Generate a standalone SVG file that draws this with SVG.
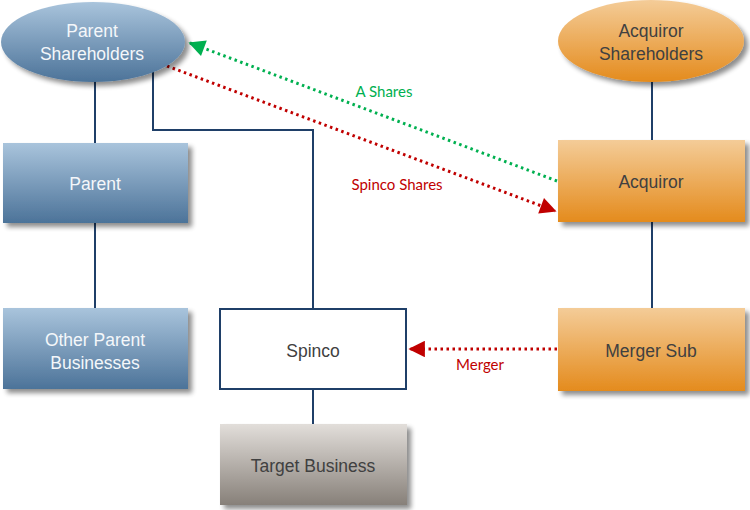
<svg xmlns="http://www.w3.org/2000/svg" width="750" height="510" viewBox="0 0 750 510">
  <defs>
    <linearGradient id="gBlue" x1="0" y1="0" x2="0" y2="1">
      <stop offset="0" stop-color="#A9C4DC"/>
      <stop offset="1" stop-color="#4C7399"/>
    </linearGradient>
    <linearGradient id="gOrange" x1="0" y1="0" x2="0" y2="1">
      <stop offset="0" stop-color="#F4CC98"/>
      <stop offset="1" stop-color="#E48B1D"/>
    </linearGradient>
    <linearGradient id="gGray" x1="0" y1="0" x2="0" y2="1">
      <stop offset="0" stop-color="#E2DEDA"/>
      <stop offset="1" stop-color="#878079"/>
    </linearGradient>
    <filter id="shadow" x="-10%" y="-10%" width="130%" height="140%">
      <feGaussianBlur in="SourceAlpha" stdDeviation="2.5"/>
      <feOffset dx="4" dy="4" result="b"/>
      <feComponentTransfer><feFuncA type="linear" slope="0.45"/></feComponentTransfer>
      <feMerge><feMergeNode/><feMergeNode in="SourceGraphic"/></feMerge>
    </filter>
    <marker id="arrowGreen" viewBox="0 0 10 10" refX="9" refY="5" markerWidth="6.5" markerHeight="5.5" markerUnits="strokeWidth" orient="auto">
      <path d="M0,0 L10,5 L0,10 z" fill="#00B050"/>
    </marker>
    <marker id="arrowRed" viewBox="0 0 10 10" refX="9" refY="5" markerWidth="6.5" markerHeight="5.5" markerUnits="strokeWidth" orient="auto">
      <path d="M0,0 L10,5 L0,10 z" fill="#C00000"/>
    </marker>
  </defs>
  <style>
    .link { fill: none; stroke: #1F3F68; stroke-width: 2; }
    .dot { fill: none; stroke-width: 3; stroke-dasharray: 2.5 3.5; }
    .green { stroke: #00B050; }
    .red { stroke: #C00000; }
    .lblW { font-family: "Liberation Sans", Arial, sans-serif; font-size: 17.5px; fill: #F4F7FA; text-anchor: middle; }
    .lblD { font-family: "Liberation Sans", Arial, sans-serif; font-size: 17.5px; fill: #404040; text-anchor: middle; }
    .edge { font-family: Lato, "Open Sans", sans-serif; font-size: 15px; text-anchor: middle; }
  </style>

  <g id="connectors">
    <line class="link" x1="95" y1="80" x2="95" y2="143"/>
    <line class="link" x1="95" y1="222" x2="95" y2="309"/>
    <polyline class="link" points="153,68 153,130 313,130 313,309"/>
    <line class="link" x1="313" y1="390" x2="313" y2="425"/>
    <line class="link" x1="652" y1="82" x2="652" y2="141"/>
    <line class="link" x1="652" y1="222" x2="652" y2="309"/>
    <line class="dot green" x1="557" y1="181" x2="190" y2="43" marker-end="url(#arrowGreen)"/>
    <line class="dot red" x1="167" y1="66" x2="555" y2="211" marker-end="url(#arrowRed)"/>
    <line class="dot red" x1="557" y1="349" x2="410" y2="349" marker-end="url(#arrowRed)"/>
    <text class="edge" x="384" y="97" fill="#00B050">A Shares</text>
    <text class="edge" x="397" y="190" fill="#C00000">Spinco Shares</text>
    <text class="edge" x="480" y="370" fill="#C00000">Merger</text>
  </g>

  <g id="parent-shareholders">
    <ellipse cx="93" cy="42" rx="92" ry="40" fill="url(#gBlue)" filter="url(#shadow)"/>
    <text class="lblW" x="92" y="37">Parent</text>
    <text class="lblW" x="92" y="60">Shareholders</text>
  </g>

  <g id="acquiror-shareholders">
    <ellipse cx="651" cy="41" rx="93" ry="41" fill="url(#gOrange)" filter="url(#shadow)"/>
    <text class="lblD" x="651" y="37">Acquiror</text>
    <text class="lblD" x="651" y="60">Shareholders</text>
  </g>

  <g id="parent">
    <rect x="3" y="143" width="185" height="80" fill="url(#gBlue)" filter="url(#shadow)"/>
    <text class="lblW" x="95" y="190">Parent</text>
  </g>

  <g id="other-parent-businesses">
    <rect x="3" y="308" width="185" height="81" fill="url(#gBlue)" filter="url(#shadow)"/>
    <text class="lblW" x="95" y="346">Other Parent</text>
    <text class="lblW" x="95" y="369">Businesses</text>
  </g>

  <g id="spinco">
    <rect x="220" y="309" width="186" height="80" fill="#FFFFFF" stroke="#1F3F68" stroke-width="2"/>
    <text class="lblD" x="313" y="357">Spinco</text>
  </g>

  <g id="target-business">
    <rect x="220" y="424" width="187" height="81" fill="url(#gGray)" filter="url(#shadow)"/>
    <text class="lblD" x="313" y="472">Target Business</text>
  </g>

  <g id="acquiror">
    <rect x="558" y="140" width="187" height="82" fill="url(#gOrange)" filter="url(#shadow)"/>
    <text class="lblD" x="651" y="188">Acquiror</text>
  </g>

  <g id="merger-sub">
    <rect x="558" y="308" width="187" height="83" fill="url(#gOrange)" filter="url(#shadow)"/>
    <text class="lblD" x="651" y="357">Merger Sub</text>
  </g>
</svg>
